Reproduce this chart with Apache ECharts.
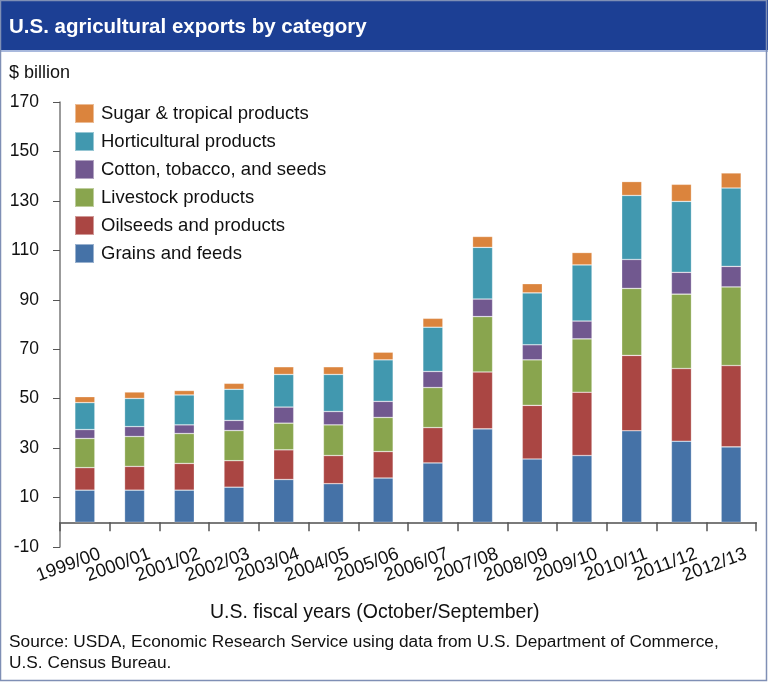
<!DOCTYPE html>
<html>
<head>
<meta charset="utf-8">
<script src="https://cdn.jsdelivr.net/npm/echarts@6/dist/echarts.min.js"></script>
<style>
html,body{margin:0;padding:0;background:#fff;}
#chart{width:768px;height:682px;}
</style>
</head>
<body>
<div id="chart"></div>
<script>
var categories = ['1999/00','2000/01','2001/02','2002/03','2003/04','2004/05','2005/06','2006/07','2007/08','2008/09','2009/10','2010/11','2011/12','2012/13'];
var grains       = [13.0, 13.0, 13.0, 14.2, 17.3, 15.6, 17.9, 24.0, 37.8, 25.6, 27.0, 37.0, 32.8, 30.5];
var oilseeds     = [9.1, 9.6, 10.8, 10.7, 12.0, 11.4, 10.7, 14.3, 23.0, 21.7, 25.6, 30.5, 29.4, 32.9];
var livestock    = [11.8, 12.1, 12.1, 12.2, 10.8, 12.4, 13.8, 16.2, 22.4, 18.4, 21.6, 27.1, 30.1, 31.8];
var cotton       = [3.6, 4.0, 3.5, 4.1, 6.5, 5.4, 6.5, 6.5, 7.1, 6.1, 7.2, 11.7, 8.8, 8.3];
var horticulture = [10.9, 11.4, 12.1, 12.6, 13.2, 15.0, 16.8, 17.9, 20.9, 21.0, 22.7, 25.9, 28.7, 31.7];
var sugar        = [2.4, 2.6, 1.8, 2.4, 3.1, 3.1, 3.1, 3.6, 4.4, 3.7, 5.0, 5.6, 6.9, 6.1];
var seriesNames = ['Grains and feeds','Oilseeds and products','Livestock products','Cotton, tobacco, and seeds','Horticultural products','Sugar & tropical products'];
var seriesData = [grains, oilseeds, livestock, cotton, horticulture, sugar];
var colors = ['#4572a7','#aa4643','#89a54e','#71588f','#4198af','#db843d'];
var yMin = -10, yMax = 170, yInterval = 20;

var FONT = 'Liberation Sans, Arial, Helvetica, sans-serif';
var chart = echarts.init(document.getElementById('chart'), null, {renderer:'canvas'});

var series = seriesNames.map(function(n, i){
  return {
    name: n, type: 'bar', stack: 'total', data: seriesData[i], barWidth: 20,
    itemStyle: {color: colors[i], borderColor: 'rgba(255,255,255,0.45)', borderWidth: 0.6}
  };
});

chart.setOption({
  animation: false,
  textStyle: {fontFamily: FONT},
  graphic: [
    {type:'rect', shape:{x:0,y:0,width:768,height:50}, style:{fill:'#1c3f94'}, z:0},
    {type:'rect', shape:{x:0,y:50,width:768,height:2}, style:{fill:'#a9b9dd'}, z:0},
    {type:'rect', shape:{x:0.5,y:0.5,width:766,height:680}, style:{fill:'none', stroke:'#7f8fb5', lineWidth:1.5}, z:0}
  ],
  title: [
    {text:'U.S. agricultural exports by category', left:4, top:12,
     textStyle:{color:'#fff', fontSize:20.5, fontWeight:'bold', fontFamily:FONT}},
    {text:'$ billion', left:4, top:59, textStyle:{color:'#111', fontSize:18, fontWeight:'normal', fontFamily:FONT}},
    {text:'U.S. fiscal years (October/September)', left:205, top:598, textStyle:{color:'#111', fontSize:19.5, fontWeight:'normal', fontFamily:FONT}},
    {text:'Source: USDA, Economic Research Service using data from U.S. Department of Commerce,\nU.S. Census Bureau.', left:4, top:627,
     textStyle:{color:'#111', fontSize:17.3, fontWeight:'normal', lineHeight:21, fontFamily:FONT}}
  ],
  legend: {
    orient:'vertical', left:69, top:98, itemWidth:19, itemHeight:19, itemGap:7,
    icon:'rect',
    data: seriesNames.slice().reverse(),
    textStyle:{fontSize:18.5, lineHeight:19, color:'#111', fontFamily:FONT, padding:[0,0,0,2]}
  },
  grid: {left:60, right:12, top:102, bottom:135, containLabel:false},
  xAxis: {
    type:'category', data:categories,
    axisLine:{onZero:true, lineStyle:{color:'#7a7a7a', width:2}},
    axisTick:{show:true, length:9, lineStyle:{color:'#555', width:1.5}},
    axisLabel:{interval:0, rotate:20, fontSize:18.5, color:'#111', margin:12, padding:[0,-16,0,0], fontFamily:FONT}
  },
  yAxis: {
    type:'value', min:yMin, max:yMax, interval:yInterval,
    splitLine:{show:false},
    axisLine:{show:true, lineStyle:{color:'#7a7a7a', width:1.5}},
    axisTick:{show:true, length:7, lineStyle:{color:'#555'}},
    axisLabel:{fontSize:17.5, color:'#111', margin:21, fontFamily:FONT}
  },
  series: series
});
</script>
</body>
</html>
